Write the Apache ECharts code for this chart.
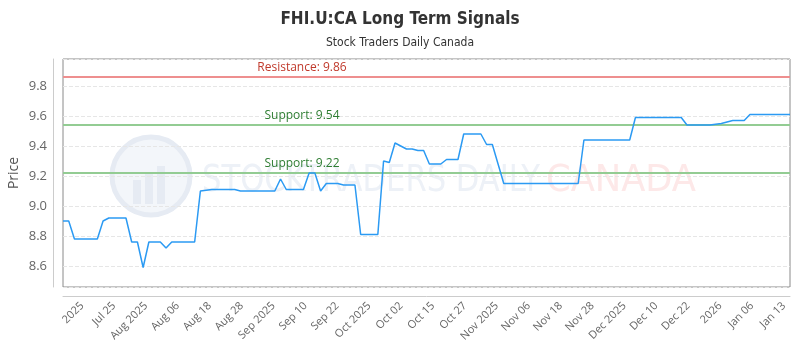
<!DOCTYPE html>
<html>
<head>
<meta charset="utf-8">
<script src="https://cdn.jsdelivr.net/npm/echarts@6.0.0/dist/echarts.min.js"></script>
<style>
  html, body { margin: 0; padding: 0; background: #fff; }
  #chart { width: 800px; height: 350px; }
</style>
</head>
<body>
<div id="chart"></div>
<script>
//数据：收盘价（按交易日）
var prices = [
  8.90, 8.90, 8.78, 8.78, 8.78, 8.78, 8.78, 8.90, 8.92, 8.92,
  8.92, 8.92, 8.76, 8.76, 8.59, 8.76, 8.76, 8.76, 8.72, 8.76,
  8.76, 8.76, 8.76, 8.76, 9.10, 9.105, 9.11, 9.11, 9.11, 9.11,
  9.11, 9.10, 9.10, 9.10, 9.10, 9.10, 9.10, 9.10, 9.18, 9.11,
  9.11, 9.11, 9.11, 9.22, 9.22, 9.10, 9.15, 9.15, 9.15, 9.14,
  9.14, 9.14, 8.81, 8.81, 8.81, 8.81, 9.30, 9.29, 9.42, 9.40,
  9.38, 9.38, 9.37, 9.37, 9.28, 9.28, 9.28, 9.31, 9.31, 9.31,
  9.48, 9.48, 9.48, 9.48, 9.41, 9.41, 9.28, 9.15, 9.15, 9.15,
  9.15, 9.15, 9.15, 9.15, 9.15, 9.15, 9.15, 9.15, 9.15, 9.15,
  9.15, 9.44, 9.44, 9.44, 9.44, 9.44, 9.44, 9.44, 9.44, 9.44,
  9.59, 9.59, 9.59, 9.59, 9.59, 9.59, 9.59, 9.59, 9.59, 9.54,
  9.54, 9.54, 9.54, 9.54, 9.545, 9.55, 9.56, 9.57, 9.57, 9.57,
  9.61, 9.61, 9.61, 9.61, 9.61, 9.61, 9.61, 9.61
];
//x轴刻度文字
var tickLabels = ['2025', 'Jul 25', 'Aug 2025', 'Aug 06', 'Aug 18', 'Aug 28', 'Sep 2025',
  'Sep 10', 'Sep 22', 'Oct 2025', 'Oct 02', 'Oct 15', 'Oct 27', 'Nov 2025', 'Nov 06',
  'Nov 18', 'Nov 28', 'Dec 2025', 'Dec 10', 'Dec 22', '2026', 'Jan 06', 'Jan 13'];
//支撑/阻力位
var resistance = 9.86;
var supports = [9.54, 9.22];

var days = prices.map(function(v, i) { return i; });

var labelFont = '"Open Sans", "DejaVu Sans", sans-serif';
var narrowFont = '"DejaVu Sans Condensed", "Roboto", sans-serif';

//用canvas量字宽，水印文字压到原图的宽度
var ctx = document.createElement('canvas').getContext('2d');
function fitScale(text, font, width) {
  ctx.font = font;
  return width / ctx.measureText(text).width;
}
var wmFont = '38px ' + narrowFont;

var markData = [{
  yAxis: resistance,
  lineStyle: { color: '#ee8f8f', width: 2, type: 'solid' },
  label: { formatter: 'Resistance: ' + resistance.toFixed(2), color: '#c0392b' }
}];
supports.forEach(function(val) {
  markData.push({
    yAxis: val,
    lineStyle: { color: '#93cc93', width: 2, type: 'solid' },
    label: { formatter: 'Support: ' + val.toFixed(2), color: '#2e7d32' }
  });
});

var chart = echarts.init(document.getElementById('chart'));
chart.setOption({
  animation: false,
  title: {
    text: 'FHI.U:CA Long Term Signals',
    subtext: 'Stock Traders Daily Canada',
    left: 'center',
    top: 6,
    itemGap: 9,
    textStyle: { fontSize: 17, fontWeight: 'bold', color: '#333', fontFamily: narrowFont },
    subtextStyle: { fontSize: 12, color: '#333', fontFamily: narrowFont }
  },
  //水印
  graphic: [{
    type: 'group',
    z: -10,
    silent: true,
    children: [{
      type: 'circle',
      shape: { cx: 151, cy: 176, r: 39 },
      style: { fill: '#f3f6fa', stroke: '#e6ebf3', lineWidth: 5 }
    }, {
      type: 'rect', shape: { x: 133, y: 180, width: 8, height: 24 },
      style: { fill: '#e6ebf3' }
    }, {
      type: 'rect', shape: { x: 145, y: 172, width: 8, height: 32 },
      style: { fill: '#e6ebf3' }
    }, {
      type: 'rect', shape: { x: 157, y: 166, width: 8, height: 38 },
      style: { fill: '#e6ebf3' }
    }, {
      type: 'text',
      x: 202, y: 181,
      scaleX: fitScale('STOCKTRADERS DAILY', wmFont, 338),
      style: { x: 0, y: 0, text: 'STOCKTRADERS DAILY', verticalAlign: 'middle', font: wmFont, fill: '#edf1f7' }
    }, {
      type: 'text',
      x: 546, y: 181,
      scaleX: fitScale('CANADA', wmFont, 150),
      style: { x: 0, y: 0, text: 'CANADA', verticalAlign: 'middle', font: wmFont, fill: '#fde8e8' }
    }]
  }],
  grid: {
    left: 63,
    right: 10,
    top: 59,
    bottom: 63,
    outerBoundsMode: 'none',
    show: true,
    borderColor: '#8a8a8a',
    borderWidth: 1
  },
  xAxis: [{
    //数据用的类目轴
    type: 'category',
    data: days,
    boundaryGap: false,
    show: false
  }, {
    //刻度文字轴
    type: 'value',
    position: 'bottom',
    offset: 9,
    min: -0.6,
    max: 22.19,
    splitNumber: 22,
    minInterval: 1,
    maxInterval: 1,
    axisLine: { show: true, onZero: false, lineStyle: { color: '#cccccc' } },
    axisTick: { show: false },
    splitLine: { show: false },
    axisLabel: {
      rotate: 45,
      margin: 8,
      fontSize: 11,
      color: '#666',
      fontFamily: labelFont,
      formatter: function(v) {
        var k = Math.round(v);
        if (Math.abs(v - k) > 1e-6 || k < 0 || k >= tickLabels.length) return '';
        return tickLabels[k];
      }
    }
  }],
  yAxis: {
    type: 'value',
    min: 8.46,
    max: 9.98,
    splitNumber: 8,
    offset: 10,
    name: 'Price',
    nameLocation: 'middle',
    nameGap: 32,
    nameMoveOverlap: false,
    nameTextStyle: { fontSize: 14, color: '#555', fontFamily: labelFont },
    axisLine: { show: true, onZero: false, lineStyle: { color: '#cccccc' } },
    axisTick: { show: false },
    axisLabel: {
      margin: 6,
      fontSize: 13,
      color: '#666',
      fontFamily: labelFont,
      formatter: function(v) {
        if (Math.abs(v * 5 - Math.round(v * 5)) > 1e-6) return '';
        return v.toFixed(1);
      }
    },
    splitLine: { lineStyle: { color: '#e6e6e6', type: 'dashed' } }
  },
  series: [{
    name: 'Price',
    type: 'line',
    xAxisIndex: 0,
    data: prices,
    showSymbol: false,
    lineStyle: { color: '#2b9af3', width: 1.5 },
    itemStyle: { color: '#2b9af3' },
    z: 5,
    markLine: {
      silent: true,
      symbol: 'none',
      label: {
        position: 'insideMiddleTop',
        distance: 3,
        padding: [0, 249, 0, 0],
        fontSize: 12,
        fontFamily: labelFont
      },
      data: markData
    }
  }]
});
</script>
</body>
</html>
